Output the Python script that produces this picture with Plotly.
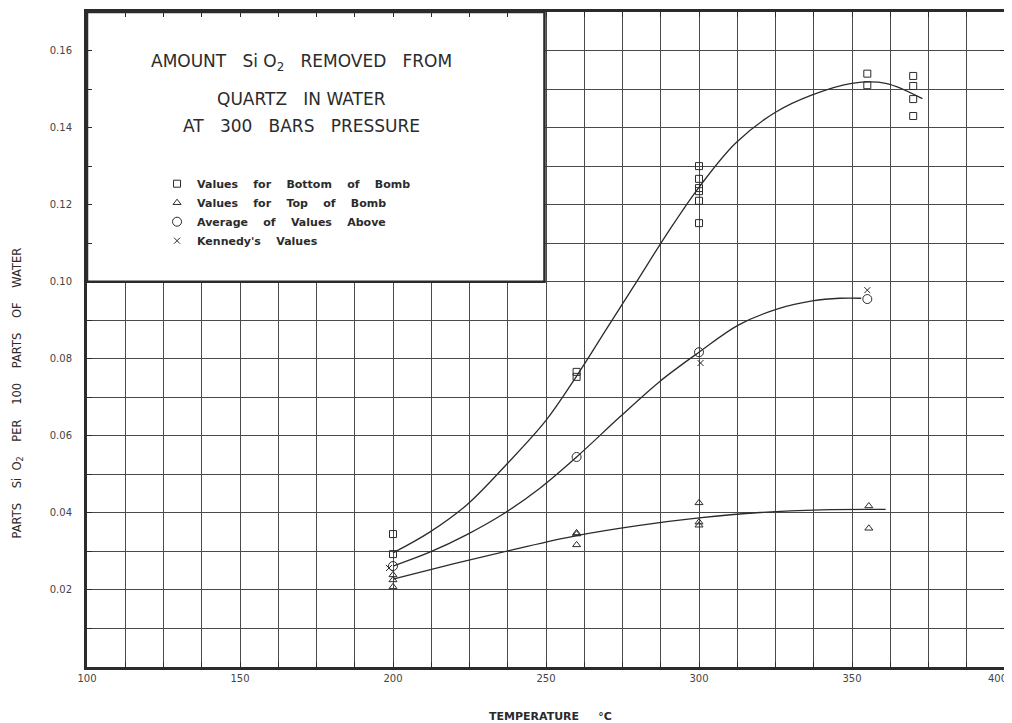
import plotly.graph_objects as go

# ---------------- data ----------------
bottom_x = [200, 200, 260, 260, 300, 300, 300, 300, 300, 300, 355, 355, 370, 370, 370, 370]
bottom_y = [0.0345, 0.0293, 0.0753, 0.0766, 0.1300, 0.1267, 0.1243, 0.1235, 0.1210, 0.1152,
            0.1540, 0.1510, 0.1534, 0.1508, 0.1474, 0.1430]

top_x = [200, 200, 200, 260, 260, 260, 300, 300, 300, 355.5, 355.5]
top_y = [0.0239, 0.0226, 0.0208, 0.0345, 0.0348, 0.0317, 0.0426, 0.0376, 0.0368, 0.0418, 0.0360]

avg_x = [200, 260, 300, 355]
avg_y = [0.0262, 0.0545, 0.0817, 0.0955]

kennedy_x = [198.7, 300.5, 355]
kennedy_y = [0.0257, 0.0789, 0.0978]

# hand-drawn fitted curves
upper_x = [200, 212, 224, 237, 250, 260, 270, 280, 290, 300, 312, 325, 337, 350, 361, 373]
upper_y = [0.0296, 0.0350, 0.0420, 0.0525, 0.0640, 0.0755, 0.0880, 0.1005, 0.1130, 0.1245,
           0.1360, 0.1440, 0.1485, 0.1515, 0.1515, 0.1475]

middle_x = [200, 212, 224, 236, 248, 260, 274, 287, 300, 313, 326, 337, 346, 353]
middle_y = [0.0262, 0.0298, 0.0343, 0.0397, 0.0464, 0.0545, 0.0648, 0.0740, 0.0817, 0.0888,
            0.0930, 0.0950, 0.0957, 0.0957]

lower_x = [200, 220, 240, 260, 280, 300, 320, 340, 361]
lower_y = [0.0228, 0.0268, 0.0306, 0.0341, 0.0367, 0.0387, 0.0401, 0.0408, 0.0409]

x_tick_vals = [100, 150, 200, 250, 300, 350, 400]
x_tick_text = ["100", "150", "200", "250", "300", "350", "400"]
y_tick_vals = [0.02, 0.04, 0.06, 0.08, 0.10, 0.12, 0.14, 0.16]
y_tick_text = ["0.02", "0.04", "0.06", "0.08", "0.10", "0.12", "0.14", "0.16"]

legend_names = ["Values for Bottom of Bomb", "Values for Top of Bomb",
                "Average of Values Above", "Kennedy's Values"]
title_lines = ["AMOUNT  Si O<sub>2</sub>  REMOVED  FROM", "QUARTZ  IN WATER", "AT  300  BARS  PRESSURE"]

# ---------------- styling ----------------
INK = "#2b2b2b"
GRID = "#4a4a4a"
FONT = "DejaVu Sans"
NB = "\u00a0"


def spaced(s, n):
    return s.replace(" ", NB * n)


fig = go.Figure()

for cx, cy in [(upper_x, upper_y), (middle_x, middle_y), (lower_x, lower_y)]:
    fig.add_trace(go.Scatter(x=cx, y=cy, mode="lines",
                             line=dict(color=INK, width=1.3, shape="spline", smoothing=1.0),
                             showlegend=False, hoverinfo="skip"))

marker_line = dict(color=INK, width=1)
fig.add_trace(go.Scatter(x=bottom_x, y=bottom_y, mode="markers", name=spaced(legend_names[0], 4),
                         marker=dict(symbol="square-open", size=7, color=INK, line=marker_line)))
fig.add_trace(go.Scatter(x=top_x, y=top_y, mode="markers", name=spaced(legend_names[1], 4),
                         marker=dict(symbol="triangle-up-open", size=7, color=INK, line=marker_line)))
fig.add_trace(go.Scatter(x=avg_x, y=avg_y, mode="markers", name=spaced(legend_names[2], 4),
                         marker=dict(symbol="circle-open", size=9, color=INK, line=marker_line)))
fig.add_trace(go.Scatter(x=kennedy_x, y=kennedy_y, mode="markers", name=spaced(legend_names[3], 4),
                         marker=dict(symbol="x-thin-open", size=6, color=INK, line=marker_line)))

# title box
fig.add_shape(type="rect", xref="x", yref="y", x0=100, x1=249.5, y0=0.10, y1=0.17,
              fillcolor="white", line=dict(color=INK, width=2.5), layer="between")

title_y = [0.1568, 0.1474, 0.1404]
for txt, ty in zip(title_lines, title_y):
    fig.add_annotation(x=170, y=ty, xref="x", yref="y", text=txt.replace("  ", NB * 3), showarrow=False,
                       font=dict(family=FONT, size=17, color=INK), xanchor="center", yanchor="middle")

# axis titles
fig.add_annotation(x=0.505, y=-0.0763, xref="paper", yref="paper",
                   text="<b>TEMPERATURE" + NB * 5 + "°C</b>", showarrow=False,
                   font=dict(family=FONT, size=11, color=INK), xanchor="center", yanchor="middle")
fig.add_annotation(x=-0.076, y=0.418, xref="paper", yref="paper", textangle=-90,
                   text=spaced("PARTS  Si O<sub>2</sub>  PER  100  PARTS  OF  WATER", 2), showarrow=False,
                   font=dict(family=FONT, size=11.5, color=INK), xanchor="center", yanchor="middle")

# last x tick label sits at the very edge of the page: draw it nudged inward so it stays whole
shown_x_text = x_tick_text[:-1] + [""]
fig.add_annotation(x=x_tick_vals[-1], y=0, xref="x", yref="y", text=x_tick_text[-1], showarrow=False,
                   font=dict(family=FONT, size=10, color="#444"), xanchor="center", yanchor="top",
                   xshift=-8, yshift=-4)

fig.update_xaxes(range=[100, 400], tickvals=x_tick_vals, ticktext=shown_x_text, automargin=False,
                 showgrid=True, gridcolor=GRID, gridwidth=1,
                 minor=dict(dtick=12.5, tick0=100, showgrid=True, gridcolor=GRID, gridwidth=1,
                            ticks="inside", ticklen=5, tickcolor=INK),
                 ticks="inside", ticklen=5, tickcolor=INK,
                 showline=True, linecolor=INK, linewidth=3, mirror="ticks", zeroline=False,
                 tickfont=dict(family=FONT, size=10, color="#444"))
fig.update_yaxes(range=[0, 0.17], tickvals=y_tick_vals, ticktext=y_tick_text, automargin=False,
                 showgrid=True, gridcolor=GRID, gridwidth=1,
                 minor=dict(dtick=0.01, tick0=0, showgrid=True, gridcolor=GRID, gridwidth=1,
                            ticks="inside", ticklen=5, tickcolor=INK),
                 ticks="inside", ticklen=5, tickcolor=INK, ticklabelstandoff=10,
                 showline=True, linecolor=INK, linewidth=3, mirror="ticks", zeroline=False,
                 tickfont=dict(family=FONT, size=10, color="#444"))

# page body has an 8px margin: figure is sized/offset so the plot lands where the reference has it
fig.update_layout(width=1004, height=715, margin=dict(l=79, r=7, t=4, b=56),
                  paper_bgcolor="white", plot_bgcolor="white",
                  showlegend=True,
                  legend=dict(x=0.0763, y=0.760, xanchor="left", yanchor="top", bgcolor="rgba(0,0,0,0)",
                              borderwidth=0, tracegroupgap=0,
                              font=dict(family=FONT, size=11, color=INK, weight="bold")))

fig.write_html("out.html")
